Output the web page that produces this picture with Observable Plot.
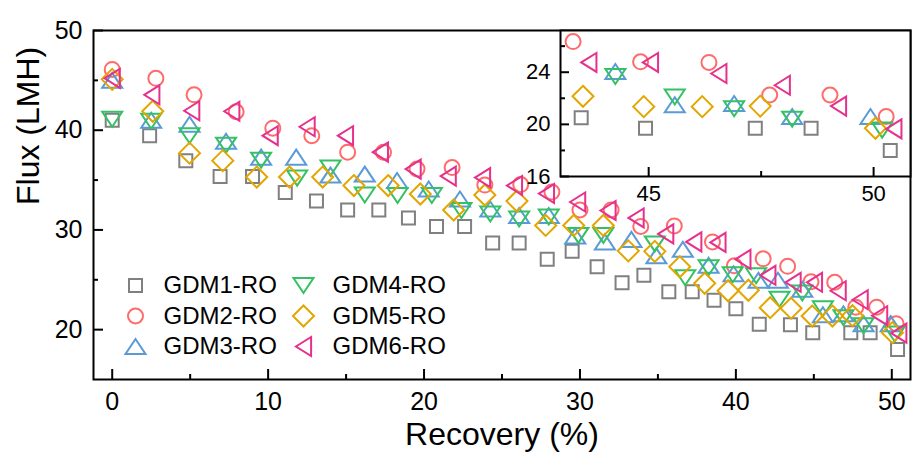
<!DOCTYPE html>
<html><head><meta charset="utf-8">
<script src="https://cdn.jsdelivr.net/npm/d3@7"></script>
<script src="https://cdn.jsdelivr.net/npm/@observablehq/plot@0.6"></script>
<style>
html,body{margin:0;padding:0;background:#fff;}
#chart{position:relative;width:913px;height:461px;font-family:"Liberation Sans",Arial,sans-serif;}
#chart svg{position:absolute;left:0;top:0;}
</style></head><body><div id="chart"></div>
<script>
// ---- data ----
const seriesNames = ["GDM1-RO","GDM2-RO","GDM3-RO","GDM4-RO","GDM5-RO","GDM6-RO"];
const seriesColors = ["#808080","#FF6B6B","#5B9BD5","#33C164","#E3A600","#E6318C"];

const gdm1X = [0,2.4,4.72,6.92,9.0,11.1,13.1,15.1,17.1,19.0,20.8,22.6,24.4,26.1,27.9,29.5,31.1,32.7,34.1,35.7,37.2,38.6,40.0,41.5,43.5,44.93,47.37,48.61,50.37];
const gdm1Y = [41.0,39.45,36.95,35.35,35.35,33.75,32.9,32.0,32.0,31.2,30.35,30.35,28.7,28.7,27.05,27.85,26.3,24.7,25.45,23.8,23.8,22.95,22.1,20.55,20.5,19.7,19.7,19.7,18.0];

const gdm2X = [0,2.8,5.25,7.95,10.3,12.8,15.1,17.4,19.55,21.8,23.9,26.2,28.2,30.0,32.0,33.9,36.05,38.5,39.9,41.75,43.32,44.82,46.34,47.69,49.03,50.28];
const gdm2Y = [46.1,45.2,43.55,41.85,40.2,39.45,37.8,37.8,36.1,36.25,34.5,34.55,33.8,32.0,32.0,30.35,30.4,28.8,26.4,27.1,26.35,24.8,24.75,22.25,22.25,20.6];

const gdm3X = [0,2.5,4.96,7.3,9.55,11.8,14.0,16.2,18.27,20.3,22.3,24.25,26.1,28.0,29.7,31.6,33.3,34.9,36.6,38.25,39.85,41.45,42.7,44.26,45.58,46.9,48.19,49.93];
const gdm3Y = [45.0,41.0,40.6,38.9,37.3,37.3,35.5,35.6,34.95,34.1,33.1,32.1,31.45,31.45,29.4,28.8,29.05,27.4,28.05,26.45,25.6,24.95,24.95,24.05,21.5,21.6,20.6,20.6];

const gdm4X = [0,2.5,4.96,7.3,9.55,11.86,14.0,16.2,18.3,20.5,22.4,24.25,26.1,28.0,29.9,31.5,34.8,36.75,38.25,39.8,41.3,42.8,44.26,45.58,46.9,48.19,50.19];
const gdm4Y = [41.1,40.9,39.45,38.5,37.0,35.2,36.2,33.5,33.45,33.45,31.95,31.6,31.1,31.3,29.45,29.45,28.6,25.2,26.2,25.5,25.4,23.05,23.67,22.1,21.2,20.4,19.56];

const gdm5X = [0,2.6,4.96,7.09,9.27,11.37,13.5,15.5,17.7,19.76,21.9,23.9,25.96,27.8,29.6,31.5,33.1,34.8,36.4,38.0,39.5,40.8,42.2,43.54,44.89,46.19,47.48,50.04];
const gdm5Y = [45.1,41.9,37.7,36.95,35.3,35.3,35.3,34.45,34.45,33.6,32.0,33.5,32.9,30.45,30.45,30.45,27.9,27.85,26.3,24.65,23.9,23.95,22.2,22.15,21.36,21.36,21.4,19.7];

const gdm6X = [0,2.54,5.1,7.67,10.13,12.5,14.96,17.2,19.3,21.55,23.75,25.8,27.85,29.85,31.8,33.6,35.5,37.3,38.85,40.45,42.05,43.67,45.04,46.56,47.97,49.22,50.45];
const gdm6Y = [45.2,43.55,41.95,41.9,39.45,40.35,39.45,37.8,36.1,35.4,35.25,34.45,33.65,32.8,31.95,31.2,29.6,28.8,28.75,27.05,25.45,24.75,24.75,23.9,23.0,21.4,19.65];

const mainXTicks = [0,10,20,30,40,50];
const mainXMinor = [5,15,25,35,45];
const mainYTicks = [20,30,40,50];
const mainYMinor = [25,35,45];
const insetXTicks = [45,50];
const insetXMinor = [47.5];
const insetYTicks = [16,20,24];
const insetYMinor = [18,22,26];

// ---- symbols (size = r^2*pi in Plot) ----
const rad = s => Math.sqrt(s / Math.PI);
const symSquare = {draw(c, s){const r = rad(s); c.moveTo(-r,-r); c.lineTo(r,-r); c.lineTo(r,r); c.lineTo(-r,r); c.closePath();}};
const symCircle = {draw(c, s){const r = rad(s); c.moveTo(r,0); c.arc(0,0,r,0,2*Math.PI);}};
const symUp = {draw(c, s){const r = rad(s), h = 0.75*r; c.moveTo(0,-h); c.lineTo(r,h); c.lineTo(-r,h); c.closePath();}};
const symDown = {draw(c, s){const r = rad(s), h = 0.75*r; c.moveTo(0,h); c.lineTo(r,-h); c.lineTo(-r,-h); c.closePath();}};
const symDiamond = {draw(c, s){const r = rad(s); c.moveTo(0,-r); c.lineTo(r,0); c.lineTo(0,r); c.lineTo(-r,0); c.closePath();}};
const symLeft = {draw(c, s){const r = rad(s), h = 0.8*r; c.moveTo(-h,0); c.lineTo(h,-r); c.lineTo(h,r); c.closePath();}};

const series = [
  {x: gdm1X, y: gdm1Y, symbol: symSquare, r: 6.5},
  {x: gdm2X, y: gdm2Y, symbol: symCircle, r: 7.5},
  {x: gdm3X, y: gdm3Y, symbol: symUp, r: 10},
  {x: gdm4X, y: gdm4Y, symbol: symDown, r: 10},
  {x: gdm5X, y: gdm5Y, symbol: symDiamond, r: 10.5},
  {x: gdm6X, y: gdm6Y, symbol: symLeft, r: 9.5}
].map((s, i) => ({...s, name: seriesNames[i], color: seriesColors[i],
  rows: s.x.map((x, j) => ({x, y: s.y[j]}))}));

const FONT = '"Liberation Sans", Arial, sans-serif';

function dotMarks(filterFn) {
  return series.map(s => Plot.dot(filterFn ? s.rows.filter(filterFn) : s.rows,
    {x: "x", y: "y", symbol: s.symbol, r: s.r, stroke: s.color, strokeWidth: 2, fill: "none"}));
}

// ---- main plot ----
const W = 913, H = 461, mL = 93, mR = 3, mT = 30, mB = 82;
const fw = W - mL - mR, fh = H - mT - mB;

const legendMarks = [];
series.forEach((s, i) => {
  const col = i < 3 ? 0 : 1, row = i % 3;
  const dy = [255, 285.5, 316][row];
  legendMarks.push(Plot.dot([s.name], {frameAnchor: "top-left", dx: [42, 210][col], dy,
    symbol: s.symbol, r: s.r, stroke: s.color, strokeWidth: 2, fill: "none"}));
  legendMarks.push(Plot.text([s.name], {frameAnchor: "top-left", lineAnchor: "middle", dx: [70, 239][col], dy,
    text: d => d, textAnchor: "start", fontSize: 24, fill: "black"}));
});

const main = Plot.plot({
  width: W, height: H, marginLeft: mL, marginRight: mR, marginTop: mT, marginBottom: mB,
  style: {fontFamily: FONT, fontSize: "25px", color: "black", background: "transparent", overflow: "visible"},
  x: {domain: [-1.2, 51.2], label: null},
  y: {domain: [15, 50], label: null},
  marks: [
    ...dotMarks(null),
    Plot.ruleX(mainXTicks, {x: d => d, insetTop: fh - 10, stroke: "black", strokeWidth: 2}),
    Plot.ruleX(mainXMinor, {x: d => d, insetTop: fh - 5, stroke: "black", strokeWidth: 2}),
    Plot.ruleY(mainYTicks, {y: d => d, insetRight: fw - 10, stroke: "black", strokeWidth: 2}),
    Plot.ruleY(mainYMinor, {y: d => d, insetRight: fw - 5, stroke: "black", strokeWidth: 2}),
    Plot.axisX({ticks: mainXTicks, tickSize: 0, tickPadding: 13, fontSize: 25, label: null}),
    Plot.axisY({ticks: mainYTicks, tickSize: 0, tickPadding: 11, fontSize: 25, label: null}),
    Plot.frame({stroke: "black", strokeWidth: 2}),
    Plot.text(["Recovery (%)"], {frameAnchor: "bottom", lineAnchor: "middle", dy: 55, text: d => d, fontSize: 32, fill: "black"}),
    Plot.text(["Flux (LMH)"], {frameAnchor: "left", lineAnchor: "middle", dx: -65, rotate: -90, text: d => d, fontSize: 32, fill: "black"}),
    ...legendMarks
  ]
});

// ---- inset ----
const iW = 413, iH = 200, imL = 60, imR = 3, imT = 10, imB = 44;
const ifw = iW - imL - imR, ifh = iH - imT - imB;
const iXDom = [43.04, 50.82], iYDom = [16, 27.2];
const inset = Plot.plot({
  width: iW, height: iH, marginLeft: imL, marginRight: imR, marginTop: imT, marginBottom: imB,
  style: {fontFamily: FONT, fontSize: "22px", color: "black", background: "transparent", overflow: "visible"},
  x: {domain: iXDom, label: null},
  y: {domain: iYDom, label: null},
  marks: [
    Plot.frame({fill: "white"}),
    ...dotMarks(d => d.x >= iXDom[0] && d.x <= iXDom[1] && d.y >= iYDom[0] && d.y <= iYDom[1]),
    Plot.ruleX(insetXTicks, {x: d => d, insetTop: ifh - 9, stroke: "black", strokeWidth: 2}),
    Plot.ruleX(insetXMinor, {x: d => d, insetTop: ifh - 5, stroke: "black", strokeWidth: 2}),
    Plot.ruleY(insetYTicks, {y: d => d, insetRight: ifw - 9, stroke: "black", strokeWidth: 2}),
    Plot.ruleY(insetYMinor, {y: d => d, insetRight: ifw - 5, stroke: "black", strokeWidth: 2}),
    Plot.axisX({ticks: insetXTicks, tickSize: 0, tickPadding: 9, fontSize: 22, label: null}),
    Plot.axisY({ticks: insetYTicks, tickSize: 0, tickPadding: 10, fontSize: 22, label: null}),
    Plot.frame({stroke: "black", strokeWidth: 2})
  ]
});
inset.style.left = "500px";
inset.style.top = "20px";

const root = document.getElementById("chart");
root.appendChild(main);
root.appendChild(inset);
</script>
</body></html>
